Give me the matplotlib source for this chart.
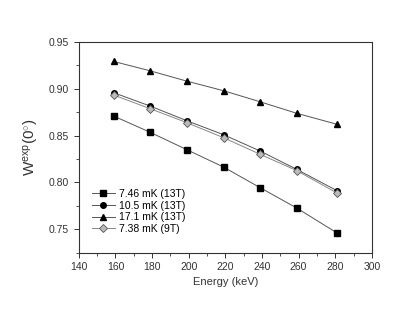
import matplotlib.pyplot as plt
from matplotlib.ticker import MultipleLocator

# Energy values and W(0) for each run
energy = [159, 179, 199, 219, 239, 259, 281]
w_746 = [0.8708, 0.8534, 0.8349, 0.8164, 0.7944, 0.7727, 0.7461]
w_105 = [0.8957, 0.8814, 0.8658, 0.8509, 0.8335, 0.8139, 0.7912]
w_171 = [0.9290, 0.9190, 0.9080, 0.8978, 0.8860, 0.8737, 0.8620]
w_738 = [0.8932, 0.8786, 0.8637, 0.8477, 0.8300, 0.8126, 0.7887]
labels = ['7.46 mK (13T)', '10.5 mK (13T)', '17.1 mK (13T)', '7.38 mK (9T)']

plt.rcParams['font.family'] = ['Liberation Sans', 'DejaVu Sans']
plt.rcParams['mathtext.fontset'] = 'custom'
plt.rcParams['mathtext.rm'] = 'Liberation Sans'
plt.rcParams['mathtext.it'] = 'Liberation Sans:italic'

fig = plt.figure(figsize=(4.15, 3.14), dpi=100)
ax = fig.add_axes([0.190, 0.195, 0.706, 0.672])

lc = '#555555'
h1, = ax.plot(energy, w_746, '-s', color=lc, lw=0.7, ms=4.5, mfc='black', mec='black', label=labels[0])
h2, = ax.plot(energy, w_105, '-o', color=lc, lw=0.7, ms=4, mfc='black', mec='black', label=labels[1])
ax.errorbar(energy, w_171, yerr=0.002, fmt='none', ecolor='black', elinewidth=0.6)
h3, = ax.plot(energy, w_171, '-^', color=lc, lw=0.7, ms=5, mfc='black', mec='black', label=labels[2])
h4, = ax.plot(energy, w_738, '-D', color='#888888', lw=0.7, ms=4, mfc='#bbbbbb', mec='#555555', mew=0.6,
              label=labels[3])

ax.set_xlim(140, 300)
ax.set_ylim(0.725, 0.95)
ax.xaxis.set_major_locator(MultipleLocator(20))
ax.xaxis.set_minor_locator(MultipleLocator(10))
ax.yaxis.set_major_locator(MultipleLocator(0.05))
ax.yaxis.set_minor_locator(MultipleLocator(0.025))
ax.yaxis.set_major_formatter(plt.FormatStrFormatter('%.2f'))
ax.tick_params(which='major', length=3.5, width=0.7, labelsize=7.5, color='#333333', labelcolor='#333333')
ax.tick_params(which='minor', length=2, width=0.6, color='#333333')
for s in ax.spines.values():
    s.set_linewidth(0.8)
    s.set_color('#333333')

ax.set_xlabel('Energy (keV)', fontsize=8, color='#333333', labelpad=3)
ax.set_ylabel(r'W$^{\rm exp}$(0$^{\circ}$)', fontsize=11, color='#333333', labelpad=6)

ax.legend(handles=[h1, h2, h3, h4], loc='lower left', bbox_to_anchor=(0.03, 0.07), frameon=False,
          fontsize=7.5, handlelength=2.2, handletextpad=0.4, labelspacing=0.15, borderaxespad=0)

plt.savefig('out.png', dpi=100)
